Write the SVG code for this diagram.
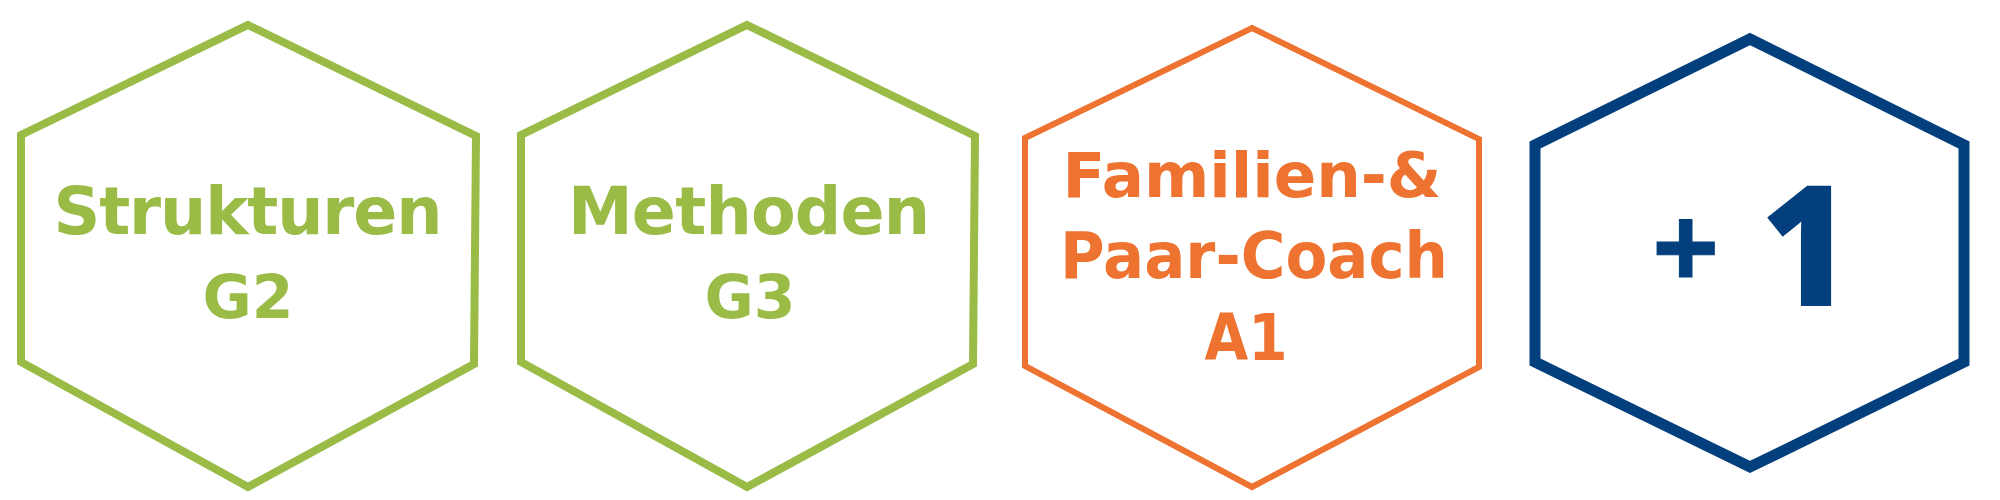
<svg xmlns="http://www.w3.org/2000/svg" width="2000" height="500" viewBox="0 0 2000 500">
<style>
.hex{fill:#fff;stroke-linejoin:miter}
.g{stroke:#9BBB47}
.gt{fill:#9BBB47}
.o{stroke:#EE7230}
.ot{fill:#EE7230}
.b{stroke:#023F7C}
.bt{fill:#023F7C;stroke:#023F7C;font-family:"Open Sans","DejaVu Sans",sans-serif;text-anchor:start}
text{font-family:"DejaVu Sans","Open Sans",sans-serif;font-weight:bold;text-anchor:middle}
</style>
<rect width="2000" height="500" fill="#fff"/>
<g id="connectors"/>
<g id="node-strukturen">
<polygon class="hex g" stroke-width="8" points="248,25 476,136 474,364 248,487 21,362 21,135"/>
<text class="gt" x="248" y="234" font-size="65" textLength="389" lengthAdjust="spacing">Strukturen</text>
<text class="gt" x="248" y="318" font-size="60">G2</text>
</g>
<g id="node-methoden">
<polygon class="hex g" stroke-width="8" points="747,25 975,136 973,364 747,487 521,362 521,135"/>
<text class="gt" x="749" y="234" font-size="65" textLength="362" lengthAdjust="spacing">Methoden</text>
<text class="gt" x="750" y="318" font-size="60">G3</text>
</g>
<g id="node-familien">
<polygon class="hex o" stroke-width="6" points="1252,28 1479,139 1479,367 1252,487 1025,366 1025,138"/>
<text class="ot" x="1252" y="197" font-size="63" textLength="379" lengthAdjust="spacingAndGlyphs">Familien-&amp;</text>
<text class="ot" x="1254" y="278" font-size="64" textLength="388" lengthAdjust="spacingAndGlyphs">Paar-Coach</text>
<text class="ot" x="1246" y="360" font-size="64" textLength="83" lengthAdjust="spacingAndGlyphs">A1</text>
</g>
<g id="node-plus1">
<polygon class="hex b" stroke-width="11" points="1750,39 1964,145 1964,362 1750,467 1535,362 1535,145"/>
<text class="bt" y="305"><tspan x="1652" y="290" font-size="118" stroke-width="1">+</tspan><tspan x="1762" y="303" font-size="160" stroke-width="6">1</tspan></text>
</g>
</svg>
